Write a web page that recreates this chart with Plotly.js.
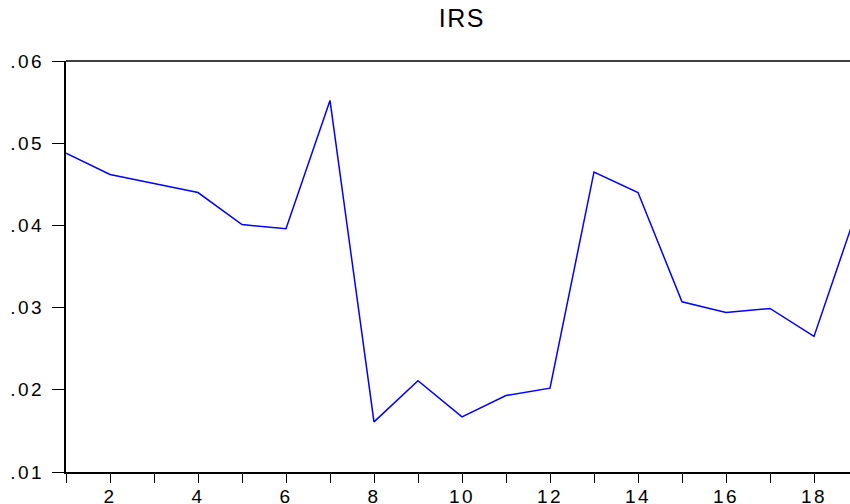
<!DOCTYPE html>
<html>
<head>
<meta charset="utf-8">
<script src="https://cdn.plot.ly/plotly-3.0.1.min.js"></script>
<style>
html,body{margin:0;padding:0;background:#fff;}
#chart .xtick text, #chart .ytick text { letter-spacing: 2.5px; }
#chart .gtitle { letter-spacing: 1.5px; }
</style>
</head>
<body>
<div id="chart" style="width:850px;height:504px;"></div>
<script>
const periods = [1,2,3,4,5,6,7,8,9,10,11,12,13,14,15,16,17,18,19];
const irs = [0.0488,0.0462,0.0451,0.0440,0.0401,0.0396,0.0552,0.0161,0.0211,0.0167,0.0193,0.0202,0.0465,0.0440,0.0307,0.0294,0.0299,0.0265,0.0422];
const xTickVals = [1,2,3,4,5,6,7,8,9,10,11,12,13,14,15,16,17,18,19];
const xTickText = ['','2','','4','','6','','8','','10','','12','','14','','16','','18',''];
const yTickVals = [0.01,0.02,0.03,0.04,0.05,0.06];
const yTickText = ['.01','.02','.03','.04','.05','.06'];

const trace = {
  x: periods, y: irs, type: 'scatter', mode: 'lines',
  line: {color: '#0000ff', width: 1.5},
  hoverinfo: 'skip', cliponaxis: true
};
const layout = {
  width: 850, height: 504,
  margin: {l: 66, r: 0, t: 61, b: 32, pad: 0},
  paper_bgcolor: '#ffffff', plot_bgcolor: '#ffffff',
  showlegend: false,
  font: {family: '"Liberation Sans", Arial, sans-serif', color: '#000'},
  title: {text: 'IRS', font: {size: 25, color: '#000'}, x: 0.505, xref: 'paper', xanchor: 'center', y: 0.964, yref: 'container', yanchor: 'middle'},
  xaxis: {
    range: [1, 1 + 784/44], tickvals: xTickVals, ticktext: xTickText,
    ticks: 'outside', ticklen: 9, tickwidth: 1, tickcolor: '#000',
    showline: true, linecolor: '#000', linewidth: 2, showgrid: false, zeroline: false,
    tickfont: {size: 19, color: '#000'}, ticklabelstandoff: -3
  },
  yaxis: {
    range: [0.01, 0.06], tickvals: yTickVals, ticktext: yTickText,
    ticks: 'outside', ticklen: 12, tickwidth: 1, tickcolor: '#000',
    showline: true, linecolor: '#000', linewidth: 2, showgrid: false, zeroline: false,
    tickfont: {size: 19, color: '#000'}, ticklabelstandoff: 4
  },
  shapes: [{type: 'line', xref: 'paper', yref: 'paper', x0: 0, x1: 1, y0: 1, y1: 1, line: {color: '#404040', width: 2}}]
};
Plotly.newPlot('chart', [trace], layout, {displayModeBar: false, staticPlot: true});
</script>
</body>
</html>
